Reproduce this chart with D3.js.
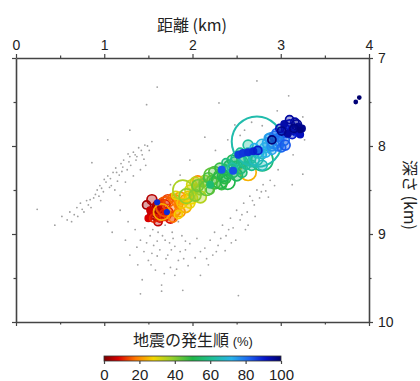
<!DOCTYPE html>
<html>
<head>
<meta charset="utf-8">
<script src="https://cdn.jsdelivr.net/npm/d3@7"></script>
<style>
  body { margin: 0; background: #fff; }
  svg { display: block; }
</style>
</head>
<body>
<svg></svg>
<script>
// tick labels
let distTicks = [0, 1, 2, 3, 4];
let depthTicks = [7, 8, 9, 10];
let orderTicks = [0, 20, 40, 60, 80, 100];

// background seismicity (gray dots): distance (km), depth (km)
let grayDist = [
  0.24, 0.52, 0.61, 0.69, 0.73, 0.77, 0.82, 0.84, 0.88, 0.92, 0.95, 0.99, 1.02, 1.04, 1.08, 1.10,
  1.13, 1.17, 1.19, 1.22, 1.26, 1.29, 1.33, 1.36, 1.39, 1.43, 1.46, 1.51, 1.54, 1.27, 0.86, 1.04,
  0.94, 1.12, 1.24, 1.33, 1.41, 1.47, 1.18, 0.63, 0.44, 1.00, 1.06, 1.15, 1.30, 1.37, 1.45, 0.80,
  0.70, 0.58, 1.20, 0.66, 0.75, 0.90, 0.97, 1.07, 1.14, 1.21, 1.28, 1.35, 1.42, 1.49, 0.85, 0.96,
  1.18, 1.27, 1.35, 1.41, 1.46, 1.52, 1.56, 1.61, 1.63, 1.69, 1.72, 1.77, 1.80, 1.84, 1.88, 1.92,
  1.95, 1.97, 2.03, 1.50, 1.58, 1.43, 1.65, 1.41, 1.65, 1.80, 1.89, 1.29, 1.24, 1.38, 1.75, 2.09,
  2.05, 1.58, 1.69, 1.84, 1.09, 1.04, 1.55, 1.66, 1.74, 1.60, 1.48, 1.70, 1.86, 1.78, 1.62, 1.54,
  1.45, 1.53, 1.68, 1.82, 1.90, 1.37, 1.60, 1.76, 1.92,
  2.14, 2.20, 2.25, 2.29, 2.34, 2.38, 2.43, 2.46, 2.50, 2.54, 2.58, 2.62, 2.65, 2.70, 2.73, 2.76,
  2.80, 2.83, 2.88, 2.93, 2.97, 3.13, 3.25, 3.14, 2.82, 2.23, 2.37, 2.18, 2.09, 2.52, 2.49, 2.63,
  2.32, 2.41, 2.56, 2.68, 2.78, 2.27, 2.44, 2.60, 2.71, 2.86, 2.16,
  1.60, 1.48, 2.30, 2.73, 3.09, 3.25, 2.96, 2.14, 2.48, 2.59, 2.67, 2.79, 2.54, 2.88, 2.40, 2.26,
  1.97, 1.86, 1.75, 3.27, 1.29
];
let grayDepth = [
  8.72, 8.80, 8.75, 8.70, 8.65, 8.75, 8.67, 8.61, 8.59, 8.50, 8.45, 8.52, 8.41, 8.34, 8.45, 8.30,
  8.25, 8.33, 8.20, 8.16, 8.27, 8.12, 8.07, 8.16, 8.02, 8.10, 7.99, 8.05, 7.95, 8.09, 8.19, 7.93,
  8.57, 8.50, 8.41, 8.34, 8.27, 8.22, 8.56, 8.86, 8.90, 8.38, 8.47, 8.40, 8.22, 8.12, 8.15, 8.62,
  8.80, 8.84, 8.29, 8.78, 8.72, 8.55, 8.48, 8.37, 8.30, 8.24, 8.18, 8.10, 8.05, 8.00, 8.70, 8.62,
  8.73, 8.86, 8.95, 9.07, 8.93, 9.02, 9.13, 8.98, 9.18, 9.07, 9.24, 8.98, 9.14, 9.30, 9.02, 9.18,
  9.36, 9.11, 9.27, 9.30, 9.41, 9.52, 9.58, 9.68, 9.65, 9.47, 9.64, 9.24, 9.07, 9.35, 9.38, 9.47,
  9.05, 8.86, 8.90, 8.86, 8.98, 8.86, 8.95, 9.02, 9.10, 9.08, 9.10, 9.28, 9.20, 9.05, 8.90, 9.22,
  9.20, 9.35, 9.45, 9.40, 9.28, 9.15, 9.25, 9.18, 9.08,
  9.16, 9.07, 8.98, 9.13, 8.90, 9.02, 8.82, 8.93, 8.73, 8.84, 8.65, 8.75, 8.57, 8.67, 8.50, 8.59,
  8.44, 8.51, 8.39, 8.45, 8.27, 8.44, 8.32, 8.10, 8.27, 9.24, 9.19, 9.35, 9.20, 9.70, 9.07, 8.90,
  9.05, 8.95, 8.78, 8.62, 8.52, 9.20, 9.10, 8.95, 8.80, 8.58, 9.28,
  7.33, 7.53, 7.51, 7.26, 7.43, 7.67, 7.60, 7.90, 7.76, 7.82, 7.73, 7.77, 7.88, 7.85, 7.93, 8.05,
  8.16, 8.33, 8.44, 7.93, 7.82
];

// sequence earthquakes: distance (km), depth (km), order (%), magnitude
let quakeDist = [
  1.58, 1.61, 1.54, 1.63, 1.60, 1.67, 1.52, 1.69, 1.63, 1.72, 1.56, 1.65, 1.75, 1.70, 1.80, 1.78,
  1.84, 2.06, 1.86, 1.92, 1.65, 2.63, 1.95, 1.88, 1.99, 1.81, 1.97, 2.04, 1.89, 2.09, 2.03, 2.12,
  2.16, 2.22, 2.18, 2.25, 2.29, 2.31, 2.37, 2.35, 2.40, 2.42, 2.46, 2.49, 2.20, 2.54, 2.79, 2.38,
  2.57, 2.52, 2.61, 2.65, 2.45, 2.73, 2.63, 2.70, 2.74, 2.79, 2.82, 2.70, 2.86, 2.90, 2.88, 2.76,
  2.93, 2.97, 2.99, 3.03, 2.95, 3.06, 2.33, 2.46, 3.17, 2.52, 2.57, 2.63, 1.60, 1.71, 2.69, 2.74,
  3.05, 3.10, 3.14, 3.16, 3.08, 3.20, 3.01, 3.22, 2.90, 3.85, 3.89,
  1.48, 1.54, 1.75, 1.61, 1.50, 1.69, 1.59, 1.80, 1.86, 1.72, 1.92, 1.84, 1.97, 1.77,
  2.03, 2.09, 2.14, 1.93, 2.06, 2.20, 1.99, 2.25, 2.33, 2.40, 2.45, 2.50, 2.31, 2.56, 2.22, 2.37,
  2.59, 2.67, 2.54, 2.72, 2.79, 2.63, 2.48, 2.79, 2.83, 2.90, 2.97, 3.01, 2.93, 3.05, 2.86,
  3.07, 3.13, 3.10, 3.18, 3.22, 2.99, 3.24, 3.15, 3.04
];
let quakeDepth = [
  8.75, 8.70, 8.78, 8.77, 8.67, 8.73, 8.73, 8.67, 8.82, 8.75, 8.82, 8.64, 8.67, 8.69, 8.61, 8.82,
  8.67, 8.40, 8.59, 8.61, 8.75, 8.30, 8.56, 8.65, 8.59, 8.56, 8.50, 8.48, 8.50, 8.50, 8.56, 8.42,
  8.48, 8.39, 8.36, 8.42, 8.33, 8.39, 8.27, 8.34, 8.33, 8.23, 8.30, 8.22, 8.44, 8.25, 8.16, 8.19,
  8.18, 8.14, 8.22, 8.14, 8.25, 7.95, 8.07, 8.16, 8.07, 8.10, 8.02, 8.02, 7.97, 8.05, 7.91, 8.05,
  7.95, 8.00, 7.89, 7.93, 7.85, 7.85, 8.27, 8.28, 7.85, 8.10, 8.08, 8.07, 8.64, 8.75, 8.06, 8.05,
  7.80, 7.76, 7.82, 7.73, 7.86, 7.78, 7.83, 7.82, 7.93, 7.50, 7.45,
  8.67, 8.61, 8.82, 8.86, 8.82, 8.78, 8.76, 8.73, 8.75, 8.61, 8.69, 8.78, 8.65, 8.59,
  8.41, 8.58, 8.39, 8.57, 8.45, 8.50, 8.44, 8.30, 8.44, 8.41, 8.16, 8.33, 8.25, 8.30, 8.34, 8.36,
  8.14, 8.22, 8.07, 8.14, 8.22, 7.99, 8.18, 7.99, 8.07, 8.00, 7.93, 8.02, 7.89, 7.99, 7.91,
  7.82, 7.87, 7.70, 7.76, 7.87, 7.80, 7.80, 7.80, 7.75
];
let quakeOrder = [
  1, 2, 3, 4, 5, 6, 7, 8, 9, 10, 11, 12, 14, 15, 17, 18,
  19, 20, 21, 22, 23, 24, 25, 26, 28, 30, 32, 33, 36, 38, 40, 41,
  43, 44, 46, 47, 48, 49, 50, 51, 52, 53, 54, 55, 56, 57, 57, 58,
  59, 60, 61, 62, 63, 64, 65, 66, 67, 68, 71, 72, 73, 74, 75, 76,
  77, 78, 79, 80, 81, 82, 83, 84, 85, 86, 87, 88, 88, 88, 89, 90,
  91, 92, 93, 94, 95, 96, 97, 98, 99, 99, 100,
  3, 5, 9, 6, 8, 11, 2, 16, 20, 13, 24, 27, 29, 16,
  34, 35, 37, 39, 42, 45, 31, 45, 47, 50, 52, 53, 48, 56, 44, 49,
  58, 60, 61, 63, 66, 62, 59, 70, 72, 76, 78, 81, 79, 83, 74,
  87, 90, 95, 96, 92, 93, 97, 98, 94
];
let quakeMag = [
  0.55, 0.65, 0.45, 0.55, 0.45, 0.65, 0.35, 0.55, 0.45, 0.55, 0.45, 0.35, 0.80, 1.10, 0.55, 0.45,
  0.45, 0.60, 0.65, 0.55, 0.90, 0.90, 0.45, 0.55, 0.65, 0.45, 0.55, 0.45, 1.10, 0.55, 0.65, 0.45,
  0.80, 0.55, 0.55, 0.65, 0.45, 0.90, 0.55, 0.65, 0.45, 0.65, 0.55, 0.45, 0.35, 0.65, 1.20, 0.45,
  0.55, 0.80, 0.45, 0.65, 0.55, 2.80, 0.45, 0.55, 0.65, 0.45, 0.55, 0.45, 0.65, 0.45, 0.55, 0.35,
  0.80, 0.55, 0.45, 0.65, 0.45, 0.55, 0.35, 0.35, 0.35, 0.35, 0.35, 0.35, 0.25, 0.25, 0.35, 0.45,
  0.45, 0.55, 0.45, 0.45, 0.35, 0.35, 0.45, 0.25, 0.45, 0.17, 0.17,
  0.45, 0.55, 0.55, 0.45, 0.35, 0.65, 0.80, 0.65, 0.55, 0.55, 0.65, 0.45, 0.55, 0.45,
  0.55, 0.65, 0.55, 0.80, 0.65, 0.45, 0.55, 0.65, 0.55, 0.80, 0.55, 0.65, 0.55, 0.55, 0.90, 0.65,
  0.65, 0.55, 0.45, 0.80, 0.55, 0.55, 0.55, 0.65, 0.55, 0.55, 0.65, 0.45, 0.55, 0.55, 0.45,
  0.55, 0.45, 0.45, 0.55, 0.35, 0.45, 0.35, 0.45, 0.35
];

let width = 420;
let height = 381;

let xScale;
let yScale;
let rScale;
let colorScale;
let barScale;

let svg = d3.select("svg");

let numFont = "'Liberation Sans', Arial, Helvetica, sans-serif";
let jpFont = "'Noto Sans CJK JP', 'Noto Sans', sans-serif";
let axisColor = "#444";

let generateScales = () => {
  xScale = d3.scaleLinear().domain([0, 4]).range([16, 369]);
  yScale = d3.scaleLinear().domain([7, 10]).range([58, 322]);
  rScale = d3.scaleLinear().domain([0, 3]).range([0, 27]);

  colorScale = d3
    .scaleLinear()
    .domain([0, 8, 18, 28, 38, 50, 62, 72, 82, 91, 100])
    .range([
      "#7a0000", "#d80000", "#ff7a00", "#f2d600", "#9bd02a", "#20b648",
      "#1fbf9c", "#28b2ea", "#1c62f0", "#0612c8", "#00006e",
    ]);

  barScale = d3.scaleLinear().domain([0, 100]).range([104, 281]);
};

let drawCanvas = () => {
  svg.attr("width", width);
  svg.attr("height", height);
};

let styleAxis = (g) => {
  g.selectAll(".domain").attr("stroke", axisColor).attr("stroke-width", 1.6);
  g.selectAll(".tick line").attr("stroke", axisColor).attr("stroke-width", 1.2);
  g.selectAll(".tick text")
    .attr("fill", "#222")
    .style("font-family", numFont)
    .style("font-size", "14px");
};

let generateAxes = () => {
  let xMinor = d3.range(0.5, 4, 1);
  let yMinor = d3.range(7.5, 10, 1);

  // top
  svg.append("g")
    .attr("transform", "translate(0, 58)")
    .call(d3.axisTop(xScale).tickValues(distTicks).tickSize(4).tickSizeOuter(0)
      .tickPadding(4).tickFormat(d3.format("d")))
    .call(styleAxis);
  svg.append("g")
    .attr("transform", "translate(0, 58)")
    .call(d3.axisTop(xScale).tickValues(xMinor).tickSize(2.5).tickFormat(""))
    .call(styleAxis)
    .call((g) => g.select(".domain").remove());

  // bottom
  svg.append("g")
    .attr("transform", "translate(0, 322)")
    .call(d3.axisBottom(xScale).tickValues(distTicks).tickSize(4).tickSizeOuter(0).tickFormat(""))
    .call(styleAxis);
  svg.append("g")
    .attr("transform", "translate(0, 322)")
    .call(d3.axisBottom(xScale).tickValues(xMinor).tickSize(2.5).tickFormat(""))
    .call(styleAxis)
    .call((g) => g.select(".domain").remove());

  // left
  svg.append("g")
    .attr("transform", "translate(16, 0)")
    .call(d3.axisLeft(yScale).tickValues(depthTicks).tickSize(4).tickSizeOuter(0).tickFormat(""))
    .call(styleAxis);
  svg.append("g")
    .attr("transform", "translate(16, 0)")
    .call(d3.axisLeft(yScale).tickValues(yMinor).tickSize(2.5).tickFormat(""))
    .call(styleAxis)
    .call((g) => g.select(".domain").remove());

  // right
  svg.append("g")
    .attr("transform", "translate(369, 0)")
    .call(d3.axisRight(yScale).tickValues(depthTicks).tickSize(4).tickSizeOuter(0)
      .tickPadding(5).tickFormat(d3.format("d")))
    .call(styleAxis);
  svg.append("g")
    .attr("transform", "translate(369, 0)")
    .call(d3.axisRight(yScale).tickValues(yMinor).tickSize(2.5).tickFormat(""))
    .call(styleAxis)
    .call((g) => g.select(".domain").remove());

  svg.append("text")
    .attr("x", 192)
    .attr("y", 31)
    .attr("text-anchor", "middle")
    .attr("fill", "#222")
    .style("font-family", jpFont)
    .style("font-size", "16px")
    .text("距離 (km)");

  svg.append("text")
    .attr("transform", "translate(404, 195) rotate(90)")
    .attr("text-anchor", "middle")
    .attr("fill", "#222")
    .style("font-family", jpFont)
    .style("font-size", "16px")
    .text("深さ (km)");
};

let drawDots = () => {
  let plot = svg.append("g");

  plot.selectAll("circle.bg")
    .data(grayDist.map((d, i) => ({ dist: d, depth: grayDepth[i] })))
    .enter()
    .append("circle")
    .attr("class", "bg")
    .attr("cx", (item) => xScale(item.dist))
    .attr("cy", (item) => yScale(item.depth))
    .attr("r", 0.9)
    .attr("fill", "#a0a0a0");

  let quakes = quakeDist
    .map((d, i) => ({ dist: d, depth: quakeDepth[i], order: quakeOrder[i], mag: quakeMag[i] }))
    .sort((a, b) => a.order - b.order);

  // small events read as solid blobs, mid ones half filled, large ones open rings
  plot.selectAll("circle.eq")
    .data(quakes)
    .enter()
    .append("circle")
    .attr("class", "eq")
    .attr("cx", (item) => xScale(item.dist))
    .attr("cy", (item) => yScale(item.depth))
    .attr("r", (item) => Math.max(rScale(item.mag), 1.3))
    .attr("fill", (item) => (rScale(item.mag) <= 6 ? colorScale(item.order) : "none"))
    .attr("fill-opacity", (item) => (rScale(item.mag) <= 3.2 ? 1 : 0.35))
    .attr("stroke", (item) => colorScale(item.order))
    .attr("stroke-width", (item) => (item.mag > 2 ? 2 : 1.7));
};

let drawColorbar = () => {
  let defs = svg.append("defs");
  let grad = defs.append("linearGradient").attr("id", "order-grad");
  grad.selectAll("stop")
    .data(d3.range(0, 101, 2))
    .enter()
    .append("stop")
    .attr("offset", (v) => v + "%")
    .attr("stop-color", (v) => colorScale(v));

  svg.append("rect")
    .attr("x", barScale(0))
    .attr("y", 356)
    .attr("width", barScale(100) - barScale(0))
    .attr("height", 5)
    .attr("fill", "url(#order-grad)")
    .attr("stroke", "#333")
    .attr("stroke-width", 0.8);

  svg.append("g")
    .attr("transform", "translate(0, 361)")
    .call(d3.axisBottom(barScale).tickValues(orderTicks).tickSize(3).tickPadding(5))
    .call(styleAxis)
    .call((g) => g.select(".domain").remove())
    .call((g) => g.selectAll(".tick text").style("font-size", "15px"));

  let title = svg.append("text")
    .attr("x", 193)
    .attr("y", 346)
    .attr("text-anchor", "middle")
    .attr("fill", "#222")
    .style("font-family", jpFont)
    .style("font-size", "16px");
  title.append("tspan").text("地震の発生順 ");
  title.append("tspan").style("font-family", numFont).style("font-size", "13px").text("(%)");
};

generateScales();
drawCanvas();
drawDots();
generateAxes();
drawColorbar();
</script>
</body>
</html>
